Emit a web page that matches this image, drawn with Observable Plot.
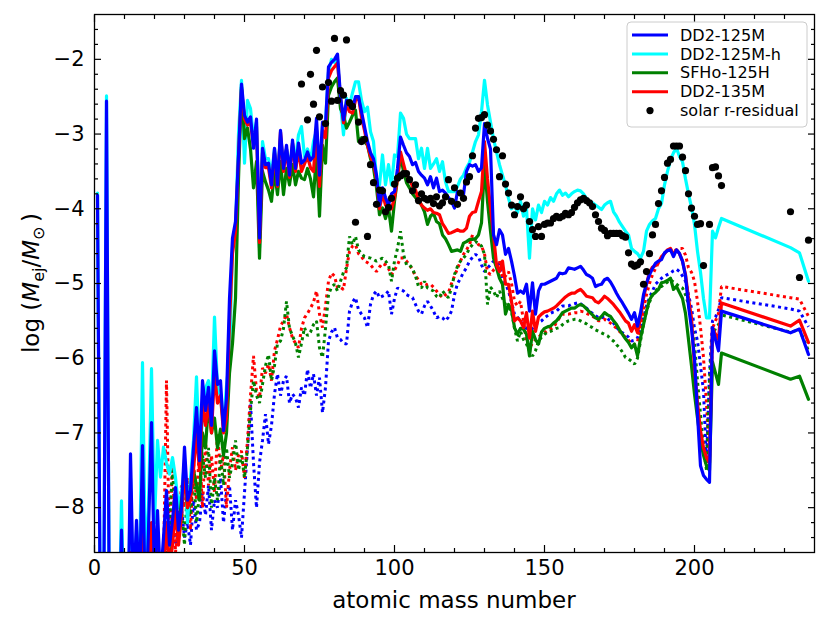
<!DOCTYPE html>
<html><head><meta charset="utf-8">
<script src="https://cdn.jsdelivr.net/npm/d3@7"></script>
<script src="https://cdn.jsdelivr.net/npm/@observablehq/plot@0.6"></script>
<style>
body{margin:0;background:#fff;}
svg{font-family:"DejaVu Sans",sans-serif;}
</style>
</head><body><div id="chart"></div>
<script>
// ---- mass-number grids (integer mass numbers A) ----
const solidMass = [...d3.range(1, 210), 232, 235, 238];
const dottedMass = [...d3.range(20, 210), 232, 235, 238];

// ---- solid lines: log(Mej/Msun) ----
const dd2_125M = [-3.82,-10,-10,-2.56,-10,-10,-10,-10,-8.3,-10,
 -10,-7.28,-9.2,-8.17,-9.2,-7.17,-9.5,-8.3,-6.86,-9.0,
 -8.04,-9.0,-8.4,-7.77,-8.5,-8.17,-7.73,-8.3,-8.0,-7.19,
 -7.9,-7.77,-7.2,-6.66,-7.37,-6.3,-6.7,-6.39,-6.9,-5.9,
 -6.35,-6.3,-6.97,-6.53,-5.2,-4.39,-4.17,-3.3,-2.33,-2.75,
 -2.84,-2.77,-3.19,-2.8,-4.39,-3.19,-3.41,-3.39,-3.68,-3.19,
 -3.68,-2.95,-3.46,-3.15,-3.55,-3.08,-3.46,-3.12,-3.39,-3.35,
 -3.24,-3.35,-3.3,-2.79,-3.55,-2.84,-2.88,-2.1,-2.04,-2.0,
 -1.93,-2.5,-2.81,-2.55,-2.62,-2.66,-2.5,-2.5,-2.7,-2.9,
 -3.1,-3.25,-3.33,-3.55,-3.95,-3.72,-3.85,-3.95,-3.8,-3.77,
 -3.46,-3.04,-3.15,-3.25,-3.3,-3.41,-3.38,-3.5,-3.55,-3.59,
 -3.68,-3.57,-3.72,-3.59,-3.77,-3.75,-3.79,-3.85,-3.9,-3.99,
 -3.77,-3.8,-3.81,-3.5,-3.41,-3.43,-3.41,-3.5,-3.45,-2.86,
 -3.06,-3.2,-4.35,-4.48,-4.28,-4.35,-4.61,-4.53,-4.7,-4.9,
 -5.13,-5.1,-5.13,-5.01,-5.37,-4.99,-5.41,-5.1,-5.01,-5.01,
 -4.99,-4.97,-4.95,-4.93,-4.86,-4.87,-4.86,-4.79,-4.8,-4.81,
 -4.79,-4.77,-4.82,-4.88,-4.9,-4.93,-5.04,-5.02,-5.01,-4.95,
 -4.93,-4.98,-5.05,-5.13,-5.2,-5.26,-5.33,-5.4,-5.48,-5.39,
 -5.57,-5.39,-5.15,-5.0,-4.88,-4.8,-4.73,-4.7,-4.68,-4.59,
 -4.56,-4.55,-4.64,-4.55,-4.6,-4.7,-4.9,-5.3,-5.6,-6.0,
 -6.75,-7.44,-7.57,-7.62,-7.66,-5.59,-5.75,-5.9,-5.37,
 -5.66,-5.61,-5.95];

const dd2_125M_h = [-3.79,-10,-10,-2.49,-10,-10,-10,-10,-7.91,-10,
 -10,-7.6,-9.5,-8.3,-9.0,-6.06,-8.8,-8.0,-6.14,-8.2,
 -7.1,-7.59,-7.19,-7.4,-7.55,-7.33,-7.6,-8.0,-7.8,-7.4,
 -8.2,-7.6,-7.1,-6.25,-7.3,-6.8,-6.4,-6.3,-6.7,-5.45,
 -6.4,-6.5,-6.9,-6.37,-6.0,-4.52,-4.3,-3.0,-2.28,-3.39,
 -2.55,-2.66,-3.06,-2.84,-4.52,-3.1,-3.33,-3.33,-3.55,-3.2,
 -3.6,-3.05,-3.4,-3.2,-3.45,-3.15,-3.35,-3.01,-2.9,-3.3,
 -3.2,-3.35,-3.1,-2.95,-3.85,-2.9,-2.85,-2.17,-2.0,-2.04,
 -2.0,-2.6,-3.01,-2.52,-2.61,-2.45,-2.3,-2.3,-2.55,-2.7,
 -2.64,-2.97,-3.1,-3.59,-3.68,-3.28,-3.68,-3.41,-3.68,-3.28,
 -3.3,-2.72,-2.79,-3.0,-3.06,-3.06,-3.06,-3.33,-3.19,-3.46,
 -3.19,-3.46,-3.4,-3.33,-3.5,-3.37,-3.64,-3.77,-3.77,-3.77,
 -3.7,-3.6,-3.55,-3.45,-3.38,-3.24,-3.1,-3.01,-2.7,-2.28,
 -2.61,-2.84,-3.06,-3.24,-3.41,-3.55,-3.68,-3.86,-4.0,-3.95,
 -4.05,-3.9,-4.1,-4.0,-4.66,-4.0,-4.15,-3.95,-4.05,-3.9,
 -3.95,-3.85,-3.9,-3.8,-3.75,-3.82,-3.79,-3.84,-3.8,-3.77,
 -3.75,-3.76,-3.8,-3.86,-3.9,-3.92,-3.95,-3.98,-4.01,-3.95,
 -3.92,-3.9,-4.04,-4.1,-4.18,-4.24,-4.3,-4.35,-4.53,-4.57,
 -4.6,-4.66,-4.57,-4.3,-4.21,-4.16,-4.13,-4.0,-3.93,-3.68,
 -3.5,-3.35,-3.25,-3.19,-3.3,-3.37,-3.6,-3.8,-3.98,-4.21,
 -4.57,-4.85,-5.2,-5.46,-5.46,-4.3,-4.39,-4.25,-4.13,
 -4.52,-4.59,-4.97];

const sfho_125H = [-9.5,-10,-10,-9.5,-10,-10,-10,-10,-9.5,-10,
 -10,-8.9,-10,-9.2,-10,-8.7,-10,-9.3,-8.5,-9.5,
 -8.7,-9.2,-9.0,-8.6,-8.9,-8.4,-8.1,-8.3,-7.9,-7.6,
 -8.0,-7.8,-7.5,-7.7,-7.9,-7.0,-7.2,-6.6,-7.0,-6.8,
 -7.2,-6.95,-7.3,-7.0,-6.2,-5.8,-5.2,-3.6,-2.37,-3.06,
 -2.92,-3.2,-3.72,-3.37,-4.66,-3.5,-3.64,-3.75,-3.9,-3.5,
 -3.81,-3.37,-3.81,-3.46,-3.68,-3.41,-3.68,-3.5,-3.59,-3.61,
 -3.46,-3.6,-3.84,-3.24,-4.1,-3.15,-3.39,-2.48,-2.37,-2.3,
 -2.25,-2.66,-2.75,-2.92,-2.84,-2.75,-2.68,-3.1,-3.05,-3.1,
 -3.15,-3.33,-3.45,-3.72,-4.08,-3.99,-4.13,-3.99,-4.3,-3.9,
 -3.6,-3.28,-3.5,-3.65,-3.72,-3.8,-3.85,-3.9,-3.95,-4.04,
 -4.21,-4.1,-4.06,-4.17,-4.2,-4.35,-4.4,-4.48,-4.57,-4.56,
 -4.55,-4.57,-4.46,-4.44,-4.41,-4.41,-4.4,-4.35,-4.19,-3.41,
 -3.9,-4.3,-4.66,-4.79,-4.93,-5.01,-5.41,-5.28,-5.35,-5.59,
 -5.68,-5.6,-5.61,-5.68,-5.97,-5.64,-5.75,-5.81,-5.65,-5.6,
 -5.58,-5.57,-5.53,-5.5,-5.45,-5.39,-5.37,-5.35,-5.33,-5.33,
 -5.3,-5.28,-5.3,-5.34,-5.38,-5.42,-5.46,-5.48,-5.44,-5.39,
 -5.42,-5.44,-5.5,-5.55,-5.62,-5.68,-5.74,-5.79,-5.86,-5.81,
 -5.97,-5.73,-5.55,-5.37,-5.22,-5.15,-5.12,-5.08,-4.99,-4.98,
 -4.96,-4.93,-5.08,-5.04,-5.12,-5.2,-5.4,-5.75,-6.1,-6.48,
 -6.8,-7.1,-7.3,-7.44,-7.5,-6.05,-6.2,-6.35,-5.93,
 -6.28,-6.24,-6.55];

const dd2_135M = [-9.5,-10,-10,-9.5,-10,-10,-10,-10,-9.5,-10,
 -10,-8.6,-10,-9.0,-10,-8.3,-10,-9.0,-8.2,-9.5,
 -8.4,-9.2,-8.9,-8.2,-8.8,-8.5,-8.0,-8.5,-8.1,-7.5,
 -8.0,-7.9,-7.5,-7.0,-7.5,-6.6,-6.9,-6.6,-7.0,-6.2,
 -6.6,-6.5,-7.0,-6.8,-5.5,-4.6,-4.3,-3.3,-2.4,-2.8,
 -2.88,-2.85,-3.15,-2.9,-4.45,-3.25,-3.45,-3.45,-3.72,-3.25,
 -3.7,-2.97,-3.5,-3.2,-3.58,-3.12,-3.5,-3.2,-3.5,-3.4,
 -3.3,-3.45,-3.5,-2.95,-3.7,-2.95,-3.05,-2.25,-2.15,-2.1,
 -2.05,-2.5,-2.85,-2.6,-2.7,-2.72,-2.55,-2.5,-2.78,-2.95,
 -3.15,-3.3,-3.4,-3.6,-4.0,-3.8,-3.95,-4.0,-4.0,-3.85,
 -3.6,-3.24,-3.4,-3.55,-3.6,-3.7,-3.75,-3.88,-3.95,-3.99,
 -4.02,-4.0,-4.05,-4.06,-4.08,-4.2,-4.26,-4.33,-4.32,-4.3,
 -4.28,-4.3,-4.3,-4.26,-4.1,-4.05,-4.04,-3.9,-3.77,-3.1,
 -3.6,-3.99,-4.35,-4.75,-4.84,-4.7,-5.01,-5.01,-5.24,-5.5,
 -5.46,-5.5,-5.59,-5.39,-5.73,-5.37,-5.64,-5.45,-5.41,-5.38,
 -5.37,-5.35,-5.33,-5.3,-5.26,-5.22,-5.18,-5.15,-5.13,-5.13,
 -5.1,-5.08,-5.12,-5.17,-5.18,-5.19,-5.24,-5.26,-5.22,-5.17,
 -5.2,-5.24,-5.28,-5.33,-5.38,-5.44,-5.5,-5.53,-5.64,-5.55,
 -5.66,-5.46,-5.2,-5.01,-4.85,-4.78,-4.76,-4.72,-4.64,-4.6,
 -4.55,-4.53,-4.61,-4.55,-4.6,-4.7,-4.88,-5.2,-5.46,-6.13,
 -6.6,-6.97,-7.2,-7.33,-7.4,-5.59,-5.68,-5.75,-5.26,
 -5.57,-5.49,-5.79];

// ---- dotted lines ----
const dotRed = [-10,-9.0,-9.0,-8.8,-6.3,-8.7,-7.33,-8.6,-8.2,-7.7,
 -8.0,-7.6,-8.3,-7.4,-7.9,-7.2,-8.0,-7.1,-7.7,-7.3,
 -7.8,-7.0,-7.5,-7.3,-8.0,-7.5,-7.19,-7.5,-7.3,-7.24,
 -7.6,-7.1,-6.5,-5.97,-6.44,-6.53,-6.13,-6.2,-6.08,-6.3,
 -5.9,-5.75,-5.57,-5.5,-5.41,-5.59,-5.73,-5.8,-5.86,-5.6,
 -5.46,-5.4,-5.33,-5.25,-5.1,-5.41,-5.59,-5.3,-4.97,-4.86,
 -4.9,-5.06,-5.05,-5.08,-4.8,-4.57,-4.5,-4.48,-4.6,-4.64,
 -4.7,-4.72,-4.75,-4.8,-4.84,-4.78,-4.73,-4.75,-4.8,-4.88,
 -4.82,-4.75,-4.66,-4.66,-4.7,-4.75,-4.82,-4.9,-4.95,-5.01,
 -5.0,-5.02,-5.01,-5.05,-5.1,-5.15,-5.19,-5.15,-5.12,-5.0,
 -4.9,-4.8,-4.7,-4.61,-4.55,-4.48,-4.35,-4.42,-4.48,-4.5,
 -4.6,-4.85,-4.88,-4.82,-4.79,-4.7,-4.93,-4.9,-4.84,-5.0,
 -5.24,-5.3,-5.24,-5.5,-5.77,-5.86,-5.8,-5.75,-5.72,-5.68,
 -5.66,-5.63,-5.61,-5.59,-5.52,-5.46,-5.41,-5.41,-5.41,-5.4,
 -5.39,-5.39,-5.37,-5.38,-5.4,-5.42,-5.44,-5.46,-5.5,-5.5,
 -5.48,-5.5,-5.53,-5.56,-5.6,-5.64,-5.68,-5.72,-5.76,-5.8,
 -5.82,-5.78,-5.6,-5.35,-5.15,-5.0,-4.88,-4.8,-4.72,-4.66,
 -4.6,-4.56,-4.55,-4.56,-4.55,-4.53,-4.53,-4.62,-4.79,-4.85,
 -4.97,-5.24,-5.59,-5.99,-6.6,-7.37,-5.6,-5.5,-5.4,-5.04,
 -5.19,-5.21,-5.44];

const dotBlue = [-10,-9.0,-8.8,-9.0,-7.9,-8.4,-8.1,-8.5,-8.3,-8.0,
 -8.4,-8.2,-8.5,-7.9,-8.3,-8.2,-7.8,-8.1,-7.7,-8.3,
 -7.9,-8.0,-7.6,-8.2,-7.8,-7.7,-8.3,-7.9,-8.1,-8.4,
 -7.8,-7.2,-6.6,-7.4,-8.0,-7.4,-7.1,-6.75,-7.15,-6.9,
 -6.48,-6.21,-6.5,-6.3,-6.24,-6.6,-6.48,-6.53,-6.66,-6.39,
 -6.5,-6.15,-6.4,-6.21,-6.5,-6.26,-6.73,-6.39,-5.77,-5.65,
 -5.59,-5.73,-5.75,-5.8,-5.81,-5.37,-5.25,-5.19,-5.35,-5.41,
 -5.46,-5.59,-5.28,-5.15,-5.1,-5.19,-5.17,-5.15,-5.1,-5.41,
 -5.2,-5.06,-5.08,-5.1,-5.15,-5.17,-5.19,-5.28,-5.37,-5.41,
 -5.3,-5.24,-5.3,-5.37,-5.46,-5.44,-5.46,-5.5,-5.45,-5.37,
 -5.15,-5.0,-4.93,-4.85,-4.79,-4.7,-4.65,-4.61,-4.64,-4.75,
 -4.84,-4.79,-4.75,-4.7,-4.72,-4.75,-4.93,-5.0,-5.1,-5.25,
 -5.41,-5.45,-5.5,-5.55,-5.6,-5.68,-5.6,-5.55,-5.52,-5.5,
 -5.46,-5.43,-5.4,-5.38,-5.37,-5.33,-5.3,-5.3,-5.3,-5.28,
 -5.27,-5.26,-5.27,-5.3,-5.33,-5.37,-5.4,-5.43,-5.46,-5.46,
 -5.45,-5.47,-5.5,-5.53,-5.58,-5.64,-5.66,-5.68,-5.72,-5.77,
 -5.76,-5.73,-5.6,-5.46,-5.3,-5.19,-5.1,-5.01,-4.97,-4.93,
 -4.9,-4.88,-4.86,-4.83,-4.81,-4.84,-4.9,-4.97,-5.15,-5.33,
 -5.6,-5.77,-6.1,-6.44,-7.4,-6.2,-5.5,-5.45,-5.35,-5.19,
 -5.34,-5.37,-5.58];

const dotGreen = [-10,-9.5,-9.0,-9.0,-8.8,-8.2,-7.5,-7.9,-8.3,-8.0,
 -8.5,-7.7,-8.1,-7.5,-8.2,-7.8,-7.3,-7.6,-7.2,-8.0,
 -7.6,-7.9,-7.3,-7.7,-7.2,-7.6,-7.4,-7.1,-7.5,-7.3,
 -7.6,-7.2,-6.7,-6.3,-6.5,-6.6,-6.35,-6.1,-5.95,-6.3,
 -6.1,-5.8,-5.77,-5.6,-5.24,-5.6,-5.7,-5.8,-5.99,-5.8,
 -5.59,-5.7,-5.65,-5.55,-5.5,-5.86,-5.99,-5.6,-5.15,-5.05,
 -5.01,-5.1,-4.97,-4.85,-4.79,-4.37,-4.48,-4.37,-4.55,-4.6,
 -4.64,-4.65,-4.66,-4.68,-4.7,-4.68,-4.66,-4.7,-4.75,-4.97,
 -4.7,-4.53,-4.3,-4.61,-4.75,-4.75,-4.8,-4.9,-5.04,-5.06,
 -4.97,-5.06,-5.08,-5.1,-5.17,-5.19,-5.1,-5.15,-5.19,-5.06,
 -4.88,-4.77,-4.7,-4.66,-4.61,-4.53,-4.48,-4.44,-4.46,-4.5,
 -4.61,-5.28,-5.05,-5.1,-5.19,-5.1,-5.2,-5.28,-5.32,-5.37,
 -5.6,-5.77,-5.64,-5.75,-5.81,-5.9,-5.97,-5.9,-5.77,-5.72,
 -5.68,-5.65,-5.64,-5.62,-5.6,-5.59,-5.55,-5.52,-5.5,-5.49,
 -5.48,-5.48,-5.5,-5.52,-5.54,-5.57,-5.59,-5.62,-5.64,-5.66,
 -5.68,-5.7,-5.74,-5.77,-5.82,-5.86,-5.92,-5.99,-6.01,-6.04,
 -6.08,-6.0,-5.77,-5.55,-5.37,-5.25,-5.15,-5.1,-5.06,-5.04,
 -5.01,-4.98,-4.95,-4.98,-5.01,-5.04,-5.06,-5.15,-5.28,-5.5,
 -5.8,-6.3,-6.75,-7.2,-7.5,-6.3,-5.7,-5.6,-5.55,-5.42,
 -5.65,-5.62,-5.9];

// ---- solar r-residual points ----
const solarMass = [69,71,72,73,74,75,76,77,78,79,80,81,82,83,84,85,86,87,88,89,90,91,92,93,94,95,96,97,98,99,
 100,101,102,103,104,105,106,107,108,109,110,111,112,113,114,115,116,117,118,119,120,121,122,123,124,125,126,127,128,129,
 130,131,132,133,134,135,136,137,138,139,140,141,142,143,144,145,146,147,148,149,150,151,152,153,154,155,156,157,158,159,
 160,161,162,163,164,165,166,167,168,169,170,171,172,173,174,175,176,177,178,179,180,181,182,183,184,185,186,187,188,189,
 190,191,192,193,194,195,196,197,198,199,200,201,202,203,205,206,207,208,209,232,235,238];
const solarLog = [-2.33,-2.81,-2.2,-2.6,-1.88,-2.77,-2.37,-2.86,-2.31,-2.56,-1.72,-2.55,-2.42,-2.48,-1.74,-2.58,-2.63,-4.18,-2.84,-3.1,-3.07,-4.37,-3.41,-3.65,-3.94,-3.75,-3.76,-4.04,-3.98,-3.86,
 -3.67,-3.59,-3.56,-3.53,-3.53,-3.61,-3.76,-3.68,-3.89,-3.8,-3.86,-3.88,-3.86,-3.93,-3.84,-3.96,-3.92,-3.84,-3.61,-3.9,-3.72,-3.94,-3.79,-3.86,-3.64,-3.57,-3.29,-2.92,-2.79,-2.78,
 -2.74,-2.88,-2.96,-3.07,-3.21,-3.57,-3.29,-3.67,-3.79,-3.95,-4.08,-3.97,-3.84,-4.0,-3.95,-4.17,-4.28,-4.37,-4.24,-4.37,-4.21,-4.19,-4.19,-4.13,-4.1,-4.12,-4.1,-4.06,-4.08,-4.05,
 -3.98,-3.92,-3.88,-3.86,-3.89,-3.92,-3.97,-4.08,-4.17,-4.26,-4.29,-4.36,-4.33,-4.33,-4.33,-4.33,-4.36,-4.38,-4.59,-4.74,-4.77,-4.75,-4.71,-5.01,-4.84,-4.6,-4.35,-4.21,-3.93,-3.76,
 -3.58,-3.39,-3.34,-3.16,-3.16,-3.16,-3.31,-3.49,-3.8,-3.99,-4.1,-4.21,-4.2,-4.76,-4.21,-3.45,-3.44,-3.56,-3.69,-4.04,-4.92,-4.42];

// ---- labels / ticks ----
const seriesNames = ["DD2-125M", "DD2-125M-h", "SFHo-125H", "DD2-135M", "solar r-residual"];
const seriesColors = ["#0000ff", "#00ffff", "#008000", "#ff0000", "#000000"];
const xTicks = [0, 50, 100, 150, 200];
const xMinor = [10,20,30,40,60,70,80,90,110,120,130,140,160,170,180,190,210,220,230];
const yTicks = [-8, -7, -6, -5, -4, -3, -2];
const yMinor = [-8.4,-8.2,-7.8,-7.6,-7.4,-7.2,-6.8,-6.6,-6.4,-6.2,-5.8,-5.6,-5.4,-5.2,-4.8,-4.6,-4.4,-4.2,-3.8,-3.6,-3.4,-3.2,-2.8,-2.6,-2.4,-2.2,-1.8,-1.6];
const xLabel = "atomic mass number";

function check(name, arr, grid) {
  if (arr.length !== grid.length) throw new Error(name + " length " + arr.length + " != " + grid.length);
}
check("dd2_125M", dd2_125M, solidMass); check("dd2_125M_h", dd2_125M_h, solidMass);
check("sfho_125H", sfho_125H, solidMass); check("dd2_135M", dd2_135M, solidMass);
check("dotRed", dotRed, dottedMass); check("dotBlue", dotBlue, dottedMass); check("dotGreen", dotGreen, dottedMass);
check("solar", solarLog, solarMass);

const rows = (grid, vals) => grid.map((a, i) => ({a, v: vals[i]}));
const fmtY = d => (d < 0 ? "\u2212" : "") + Math.abs(d);

const solidW = 3.2;
const dotOpts = (color) => ({x: "a", y: "v", stroke: color, strokeWidth: 3, strokeDasharray: "3 3.5",
  strokeLinecap: "butt", strokeLinejoin: "miter", clip: true});
const lineOpts = (color) => ({x: "a", y: "v", stroke: color, strokeWidth: solidW, strokeLinejoin: "round", clip: true});
const tickAx = {tickFormat: () => "", label: null, strokeWidth: 1.2};

const svg = Plot.plot({
  width: 830, height: 629,
  marginLeft: 94, marginRight: 16, marginTop: 14, marginBottom: 77,
  style: {fontFamily: "DejaVu Sans", color: "black", background: "white", overflow: "visible"},
  x: {domain: [0, 240]},
  y: {domain: [-8.6, -1.4]},
  marks: [
    Plot.line(rows(dottedMass, dotBlue), dotOpts(seriesColors[0])),
    Plot.line(rows(dottedMass, dotRed), dotOpts(seriesColors[3])),
    Plot.line(rows(dottedMass, dotGreen), dotOpts(seriesColors[2])),
    Plot.line(rows(solidMass, dd2_125M_h), lineOpts(seriesColors[1])),
    Plot.line(rows(solidMass, sfho_125H), lineOpts(seriesColors[2])),
    Plot.line(rows(solidMass, dd2_135M), lineOpts(seriesColors[3])),
    Plot.line(rows(solidMass, dd2_125M), lineOpts(seriesColors[0])),
    Plot.dot(rows(solarMass, solarLog), {x: "a", y: "v", r: 3.6, fill: "black", stroke: "none", clip: true}),
    Plot.frame({stroke: "black", strokeWidth: 1.3}),
    Plot.axisX(xTicks, {anchor: "bottom", tickSize: 0, tickPadding: 8, fontSize: 21, label: null}),
    Plot.axisY(yTicks, {anchor: "left", tickSize: 0, tickPadding: 10, fontSize: 21, label: null, tickFormat: fmtY}),
    Plot.axisX(xTicks, {anchor: "bottom", tickSize: -7, ...tickAx}),
    Plot.axisX(xTicks, {anchor: "top", tickSize: -7, ...tickAx}),
    Plot.axisX(xMinor, {anchor: "bottom", tickSize: -4, ...tickAx}),
    Plot.axisX(xMinor, {anchor: "top", tickSize: -4, ...tickAx}),
    Plot.axisY(yTicks, {anchor: "left", tickSize: -7, ...tickAx}),
    Plot.axisY(yTicks, {anchor: "right", tickSize: -7, ...tickAx}),
    Plot.axisY(yMinor, {anchor: "left", tickSize: -4, ...tickAx}),
    Plot.axisY(yMinor, {anchor: "right", tickSize: -4, ...tickAx})
  ]
});
document.getElementById("chart").appendChild(svg);

// ---- axis titles & legend (real SVG text) ----
const s = d3.select(svg);
s.append("text").attr("x", 454).attr("y", 608).attr("text-anchor", "middle")
  .attr("font-size", 23).attr("fill", "black").text(xLabel);

const yl = s.append("text").attr("transform", "translate(39,283) rotate(-90)")
  .attr("text-anchor", "middle").attr("font-size", 23).attr("fill", "black");
yl.append("tspan").text("log (");
yl.append("tspan").attr("font-style", "italic").text("M");
yl.append("tspan").attr("font-size", 16).attr("dy", 5).text("ej");
yl.append("tspan").attr("dy", -5).text("/");
yl.append("tspan").attr("font-style", "italic").text("M");
yl.append("tspan").attr("font-size", 16).attr("dy", 5).text("\u2299");
yl.append("tspan").attr("dy", -5).text("\u2009)");

const lg = s.append("g");
lg.append("rect").attr("x", 627).attr("y", 22).attr("width", 180).attr("height", 105)
  .attr("rx", 4).attr("fill", "white").attr("fill-opacity", 0.85).attr("stroke", "#cccccc").attr("stroke-width", 1);
seriesNames.forEach((name, i) => {
  const cy = 35 + i * 18.9;
  if (i < 4) {
    lg.append("line").attr("x1", 632).attr("x2", 668).attr("y1", cy).attr("y2", cy)
      .attr("stroke", seriesColors[i]).attr("stroke-width", 3);
  } else {
    lg.append("circle").attr("cx", 650).attr("cy", cy).attr("r", 3.6).attr("fill", seriesColors[i]);
  }
  lg.append("text").attr("x", 680).attr("y", cy).attr("dy", "0.35em").attr("font-size", 16)
    .attr("text-anchor", "start").attr("fill", "black").text(name);
});
</script>
</body></html>
